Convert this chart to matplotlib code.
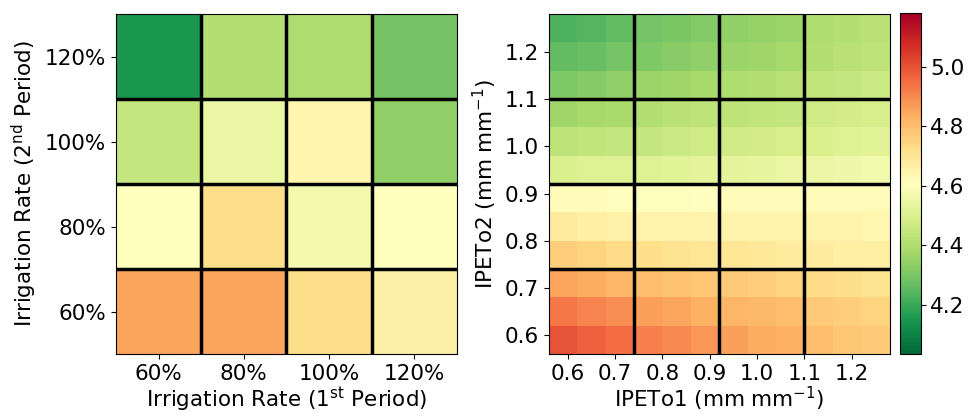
import numpy as np
import matplotlib
matplotlib.use('Agg')
import matplotlib.pyplot as plt

# Left panel: mean value per irrigation treatment (rows = 2nd period 60..120%, cols = 1st period)
rate_labels = ['60%', '80%', '100%', '120%']
treatment_means = [
    [4.85, 4.85, 4.72, 4.66],   # 2nd period 60%
    [4.61, 4.72, 4.57, 4.61],   # 2nd period 80%
    [4.45, 4.55, 4.64, 4.34],   # 2nd period 100%
    [4.15, 4.41, 4.40, 4.29],   # 2nd period 120%
]

# Right panel: response surface, read on a 12 x 12 grid (0.06 steps), rows bottom -> top
ipeto1_edges = [0.56, 0.62, 0.68, 0.74, 0.80, 0.86, 0.92, 0.98, 1.04, 1.10, 1.16, 1.22, 1.28]
ipeto2_edges = [0.56, 0.62, 0.68, 0.74, 0.80, 0.86, 0.92, 0.98, 1.04, 1.10, 1.16, 1.22, 1.28]
surface = [
    [5.00, 4.97, 4.95, 4.92, 4.90, 4.88, 4.86, 4.84, 4.83, 4.80, 4.78, 4.77],
    [4.93, 4.91, 4.89, 4.86, 4.85, 4.83, 4.82, 4.81, 4.80, 4.77, 4.76, 4.75],
    [4.85, 4.84, 4.82, 4.80, 4.79, 4.78, 4.77, 4.76, 4.75, 4.73, 4.72, 4.71],
    [4.76, 4.75, 4.73, 4.72, 4.71, 4.70, 4.70, 4.69, 4.68, 4.68, 4.67, 4.67],
    [4.68, 4.67, 4.66, 4.65, 4.65, 4.65, 4.65, 4.65, 4.65, 4.65, 4.65, 4.64],
    [4.62, 4.62, 4.61, 4.60, 4.60, 4.61, 4.62, 4.62, 4.62, 4.62, 4.62, 4.62],
    [4.50, 4.51, 4.51, 4.51, 4.52, 4.53, 4.53, 4.54, 4.55, 4.55, 4.56, 4.57],
    [4.43, 4.44, 4.45, 4.45, 4.46, 4.47, 4.47, 4.48, 4.49, 4.50, 4.51, 4.52],
    [4.37, 4.38, 4.39, 4.41, 4.42, 4.43, 4.43, 4.44, 4.45, 4.47, 4.48, 4.49],
    [4.31, 4.32, 4.34, 4.36, 4.37, 4.38, 4.40, 4.41, 4.42, 4.44, 4.45, 4.46],
    [4.26, 4.27, 4.29, 4.31, 4.33, 4.34, 4.36, 4.37, 4.38, 4.41, 4.42, 4.43],
    [4.23, 4.24, 4.26, 4.29, 4.30, 4.32, 4.34, 4.35, 4.36, 4.40, 4.41, 4.42],
]
block_lines = [0.74, 0.92, 1.10]
cbar_ticks = [4.2, 4.4, 4.6, 4.8, 5.0]

vmin, vmax = 4.035, 5.18
cmap = 'RdYlGn_r'
fs = 15.5

fig = plt.figure(figsize=(9.68, 4.16), dpi=100)
ax1 = fig.add_axes([0.1198, 0.149, 0.352, 0.817])
ax2 = fig.add_axes([0.567, 0.149, 0.352, 0.817])
cax = fig.add_axes([0.930, 0.149, 0.021, 0.819])

# ---- left: treatment heatmap
vals = np.array(treatment_means)
ax1.imshow(vals, cmap=cmap, vmin=vmin, vmax=vmax, origin='lower',
           extent=(-0.5, 3.5, -0.5, 3.5), aspect='auto')
for b in [0.5, 1.5, 2.5]:
    ax1.axvline(b, color='black', lw=2.5)
    ax1.axhline(b, color='black', lw=2.5)
ax1.set_xticks(range(4))
ax1.set_xticklabels(rate_labels)
ax1.set_yticks(range(4))
ax1.set_yticklabels(rate_labels)
ax1.set_xlabel('Irrigation Rate (1$^{\\mathrm{st}}$ Period)', fontsize=fs, labelpad=1)
ax1.set_ylabel('Irrigation Rate (2$^{\\mathrm{nd}}$ Period)', fontsize=fs)
ax1.tick_params(labelsize=fs)

# ---- right: response surface
mesh = ax2.pcolormesh(ipeto1_edges, ipeto2_edges, np.array(surface),
                      cmap=cmap, vmin=vmin, vmax=vmax)
for b in block_lines:
    ax2.axvline(b, color='black', lw=2.5)
    ax2.axhline(b, color='black', lw=2.5)
ax2.set_xlim(0.56, 1.28)
ax2.set_ylim(0.56, 1.28)
ticks = [0.6, 0.7, 0.8, 0.9, 1.0, 1.1, 1.2]
ax2.set_xticks(ticks)
ax2.set_yticks(ticks)
ax2.set_xticklabels(['%.1f' % t for t in ticks])
ax2.set_yticklabels(['%.1f' % t for t in ticks])
ax2.set_xlabel('IPETo1 (mm mm$^{-1}$)', fontsize=fs, labelpad=1)
ax2.set_ylabel('IPETo2 (mm mm$^{-1}$)', fontsize=fs)
ax2.tick_params(labelsize=fs)

cb = fig.colorbar(mesh, cax=cax, ticks=cbar_ticks)
cb.ax.tick_params(labelsize=fs)
cb.set_ticklabels(['%.1f' % t for t in cbar_ticks])

fig.savefig('out.png', dpi=100)
